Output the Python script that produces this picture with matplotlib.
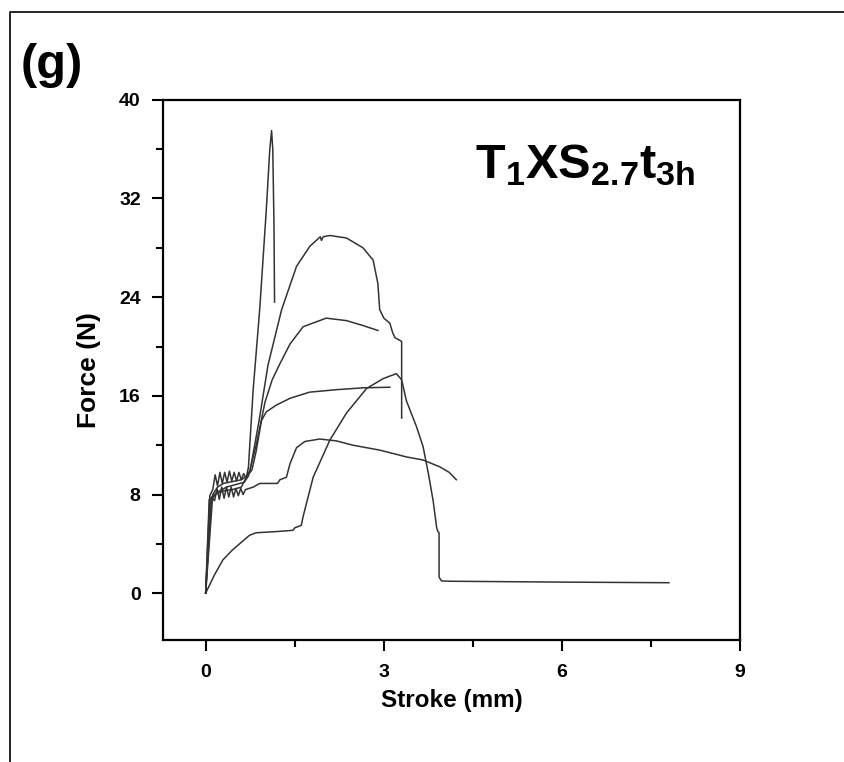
import numpy as np
import matplotlib.pyplot as plt
import matplotlib
from matplotlib.lines import Line2D
from matplotlib.ticker import MultipleLocator

matplotlib.rcParams.update({
    'font.family': ['Liberation Sans', 'DejaVu Sans'],
    'font.weight': 'bold',
    'mathtext.fontset': 'custom',
    'mathtext.bf': 'Liberation Sans:bold',
    'mathtext.rm': 'Liberation Sans:bold',
})

# spike sample
stroke_a = [0, 0.07, 0.12, 0.16, 0.2, 0.24, 0.28, 0.32, 0.36, 0.40, 0.44, 0.48, 0.52,
            0.56, 0.60, 0.64, 0.68, 0.72, 0.8, 0.91, 1.02, 1.08, 1.11, 1.13, 1.15, 1.16]
force_a = [0, 7.9, 8.4, 9.6, 8.7, 9.8, 8.9, 9.8, 9.0, 9.9, 9.1, 9.8, 9.1,
           9.8, 9.2, 9.7, 9.3, 10.2, 16.5, 23.0, 31.0, 36.0, 37.5, 36.0, 30.0, 23.6]

# big dome sample
stroke_b = [0, 0.06, 0.15, 0.3, 0.45, 0.6, 0.75, 0.9, 1.05, 1.28, 1.53, 1.75, 1.93, 1.95,
            1.98, 2.09, 2.37, 2.65, 2.82, 2.9, 2.93, 3.0, 3.1, 3.15, 3.19, 3.27, 3.3, 3.3]
force_b = [0, 7.6, 8.0, 8.3, 8.4, 8.6, 10.0, 14.0, 18.5, 23.0, 26.5, 28.1, 28.9, 28.6,
           28.9, 29.0, 28.8, 28.0, 27.0, 25.1, 23.0, 22.3, 21.9, 21.1, 20.7, 20.5, 20.4, 14.2]

# low start sample, breaks and drops to ~1 N
stroke_c = [0, 0.15, 0.29, 0.45, 0.57, 0.74, 0.85, 1.2, 1.47, 1.5, 1.61, 1.64, 1.81, 2.09,
            2.37, 2.71, 2.99, 3.21, 3.3, 3.38, 3.55, 3.66, 3.75, 3.83, 3.89, 3.91, 3.93,
            3.93, 3.97, 4.1, 6.0, 7.8]
force_c = [0, 1.5, 2.7, 3.5, 4.0, 4.7, 4.9, 5.0, 5.1, 5.3, 5.5, 6.2, 9.4, 12.4,
           14.6, 16.6, 17.4, 17.8, 17.3, 15.6, 13.5, 11.9, 9.7, 7.5, 5.3, 5.0, 4.9,
           1.3, 1.0, 0.97, 0.9, 0.85]

# 12 N plateau sample
stroke_d = [0, 0.1, 0.15, 0.19, 0.23, 0.27, 0.31, 0.35, 0.39, 0.43, 0.47, 0.51, 0.55,
            0.59, 0.63, 0.67, 0.8, 0.91, 1.21, 1.25, 1.36, 1.42, 1.53, 1.67, 1.92, 2.2,
            2.48, 2.93, 3.38, 3.66, 3.94, 4.1, 4.22]
force_d = [0, 7.8, 7.5, 8.5, 7.6, 8.6, 7.7, 8.6, 7.8, 8.6, 7.8, 8.5, 7.9,
           8.5, 8.0, 8.4, 8.6, 8.9, 8.9, 9.2, 9.4, 10.5, 11.8, 12.3, 12.5, 12.35,
           12.0, 11.6, 11.05, 10.8, 10.25, 9.8, 9.2]

# 17 N plateau sample
stroke_e = [0, 0.12, 0.2, 0.3, 0.4, 0.5, 0.6, 0.7, 0.78, 0.85, 0.94, 1.02, 1.19, 1.42,
            1.75, 2.2, 2.65, 3.1]
force_e = [0, 8.0, 8.6, 8.9, 9.0, 9.1, 9.2, 9.5, 10.0, 11.5, 14.0, 14.7, 15.25, 15.8,
           16.3, 16.5, 16.65, 16.7]

# 22 N dome sample
stroke_f = [0, 0.08, 0.2, 0.35, 0.5, 0.65, 0.72, 0.85, 1.0, 1.12, 1.25, 1.42, 1.64,
            2.03, 2.37, 2.65, 2.9]
force_f = [0, 7.5, 8.2, 8.6, 8.8, 9.0, 9.5, 12.0, 15.5, 17.3, 18.6, 20.2, 21.6,
           22.3, 22.1, 21.7, 21.3]

fig = plt.figure(figsize=(8.44, 7.62), dpi=100)
ax = fig.add_axes([0.193, 0.160, 0.684, 0.709])

for xs, ys in [(stroke_a, force_a), (stroke_b, force_b), (stroke_c, force_c),
               (stroke_d, force_d), (stroke_e, force_e), (stroke_f, force_f)]:
    ax.plot(xs, ys, color='#333333', lw=1.1)

ax.set_xlim(-0.72, 9)
ax.set_ylim(-3.8, 40)
ax.xaxis.set_major_locator(MultipleLocator(3))
ax.xaxis.set_minor_locator(MultipleLocator(1.5))
ax.yaxis.set_major_locator(MultipleLocator(8))
ax.yaxis.set_minor_locator(MultipleLocator(4))
ax.tick_params(which='major', direction='out', length=8, width=1.5, labelsize=14)
ax.tick_params(axis='x', which='major', pad=9)
ax.tick_params(axis='y', which='major', pad=8)
ax.tick_params(which='minor', direction='out', length=5, width=1.5)
for s in ax.spines.values():
    s.set_linewidth(1.6)

ax.set_xlabel('Stroke (mm)', fontsize=17.5, fontweight='bold', labelpad=6)
ax.set_ylabel('Force (N)', fontsize=19, fontweight='bold', labelpad=13)
ax.text(0.54, 0.855, r'$\mathbf{T_1XS_{2.7}t_{3h}}$', transform=ax.transAxes,
        fontsize=35, ha='left', va='baseline')

fig.text(0.024, 0.898, '(g)', fontsize=35, fontweight='bold', ha='left', va='baseline')

# panel frame
fig.add_artist(Line2D([0.012, 0.012, 1.0], [0.0, 0.984, 0.984], color='black', lw=1.2,
                      transform=fig.transFigure))

fig.savefig('out.png', dpi=100)
